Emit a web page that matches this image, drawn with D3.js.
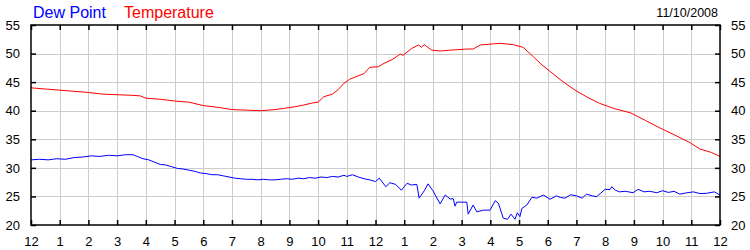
<!DOCTYPE html>
<html>
<head>
<meta charset="utf-8">
<script src="https://cdn.jsdelivr.net/npm/d3@7"></script>
<style>
  body { margin: 0; background: #fff; }
  svg { display: block; font-family: Arial, "Liberation Sans", sans-serif; }
</style>
</head>
<body>
<div id="chart"></div>
<script>
// hours since midnight, degrees F
const dewPoint = [
  [0, 31.4], [0.3, 31.5], [0.6, 31.4], [0.9, 31.6], [1.2, 31.5], [1.5, 31.8], [1.8, 31.9],
  [2.1, 32.1], [2.4, 32.0], [2.7, 32.2], [3.0, 32.1], [3.3, 32.3], [3.55, 32.3], [3.7, 32.0],
  [3.9, 31.6], [4.1, 31.4], [4.3, 31.0], [4.5, 30.6], [4.7, 30.5], [4.9, 30.2], [5.1, 29.9],
  [5.3, 29.8], [5.5, 29.6], [5.7, 29.4], [5.9, 29.1], [6.1, 29.0], [6.3, 28.8], [6.5, 28.8],
  [6.7, 28.6], [6.9, 28.4], [7.1, 28.2], [7.3, 28.1], [7.5, 28.0], [7.7, 28.0], [7.9, 27.9],
  [8.1, 28.0], [8.3, 27.9], [8.5, 27.9], [8.7, 28.0], [8.9, 28.1], [9.1, 28.0], [9.3, 28.2],
  [9.5, 28.1], [9.7, 28.3], [9.9, 28.2], [10.1, 28.4], [10.3, 28.3], [10.5, 28.5], [10.7, 28.4],
  [10.9, 28.7], [11.0, 28.5], [11.2, 28.8], [11.4, 28.4], [11.6, 28.1], [11.8, 27.9], [12.0, 27.6],
  [12.13, 28.2], [12.36, 26.7], [12.5, 27.4], [12.7, 27.1], [12.9, 26.1], [13.1, 27.3], [13.25, 27.0],
  [13.44, 27.1], [13.52, 24.7], [13.7, 26.0], [13.83, 27.2], [14.0, 26.0], [14.25, 23.7], [14.43, 25.25],
  [14.6, 24.55], [14.71, 24.6], [14.77, 23.3], [14.83, 24.0], [15.18, 24.0], [15.23, 21.9], [15.4, 23.5],
  [15.53, 22.3], [15.76, 22.6], [15.99, 22.6], [16.17, 24.25], [16.28, 23.8], [16.45, 21.2], [16.6, 21.0],
  [16.72, 21.9], [16.86, 21.0], [16.94, 22.15], [17.03, 21.45], [17.1, 22.9], [17.27, 23.5], [17.45, 24.85],
  [17.62, 24.7], [17.85, 25.25], [18.08, 24.5], [18.3, 25.1], [18.45, 24.8], [18.6, 24.7], [18.8, 25.3],
  [19.0, 25.1], [19.2, 24.7], [19.35, 25.4], [19.55, 25.1], [19.7, 24.95], [19.85, 25.6], [20.0, 26.25],
  [20.17, 26.2], [20.23, 26.7], [20.35, 26.1], [20.5, 25.8], [20.7, 25.9], [20.97, 25.65], [21.15, 26.25],
  [21.35, 25.8], [21.55, 25.9], [21.8, 25.65], [22.0, 26.0], [22.2, 25.7], [22.4, 25.9], [22.6, 25.4],
  [22.8, 25.6], [23.07, 25.8], [23.3, 25.5], [23.54, 25.55], [23.8, 25.8], [24.0, 25.25]
];

const temperature = [
  [0, 44.0], [0.5, 43.8], [1.0, 43.6], [1.5, 43.4], [2.0, 43.2], [2.5, 42.9], [3.0, 42.8],
  [3.5, 42.7], [3.8, 42.6], [4.0, 42.2], [4.5, 42.0], [5.0, 41.7], [5.5, 41.5], [6.0, 40.9],
  [6.5, 40.6], [7.0, 40.2], [7.5, 40.1], [8.0, 40.0], [8.5, 40.2], [8.8, 40.4], [9.2, 40.7],
  [9.5, 41.0], [9.8, 41.35], [10.0, 41.5], [10.2, 42.45], [10.5, 42.9], [10.7, 43.7], [10.9, 44.8],
  [11.1, 45.5], [11.4, 46.1], [11.6, 46.5], [11.8, 47.6], [12.1, 47.7], [12.3, 48.3], [12.6, 49.0],
  [12.86, 49.9], [12.96, 49.7], [13.26, 50.9], [13.5, 51.5], [13.6, 51.1], [13.7, 51.55], [13.96, 50.6],
  [14.25, 50.45], [14.6, 50.6], [15.2, 50.8], [15.4, 50.8], [15.65, 51.5], [16.1, 51.7], [16.34, 51.8],
  [16.8, 51.55], [17.14, 51.1], [17.5, 49.45], [17.8, 48.0], [18.1, 46.8], [18.5, 45.2], [18.95, 43.6],
  [19.4, 42.3], [19.8, 41.3], [20.3, 40.4], [20.9, 39.6], [21.4, 38.3], [21.9, 37.0], [22.4, 35.8],
  [22.96, 34.4], [23.3, 33.3], [23.7, 32.7], [24.0, 32.0]
];

const hourTicks = d3.range(0, 25);
const hourLabels = ["12", "1", "2", "3", "4", "5", "6", "7", "8", "9", "10", "11",
                    "12", "1", "2", "3", "4", "5", "6", "7", "8", "9", "10", "11", "12"];
const tempTicks = [20, 25, 30, 35, 40, 45, 50, 55];
const dateLabel = "11/10/2008";

const width = 750;
const height = 250;
const margin = { top: 25, right: 30, bottom: 25, left: 31 };

const svg = d3.select("#chart")
  .append("svg")
  .attr("width", width)
  .attr("height", height);

const x = d3.scaleLinear()
  .domain([0, 24])
  .range([margin.left, width - margin.right]);

const y = d3.scaleLinear()
  .domain([20, 55])
  .range([height - margin.bottom, margin.top]);

// grid
svg.append("g")
  .selectAll("line")
  .data(hourTicks.slice(1, -1))
  .enter()
  .append("line")
  .attr("x1", d => Math.round(x(d)) + 0.5)
  .attr("x2", d => Math.round(x(d)) + 0.5)
  .attr("y1", margin.top)
  .attr("y2", height - margin.bottom)
  .attr("stroke", "#cccccc");

svg.append("g")
  .selectAll("line")
  .data(tempTicks.slice(1, -1))
  .enter()
  .append("line")
  .attr("x1", margin.left)
  .attr("x2", width - margin.right)
  .attr("y1", d => Math.round(y(d)) + 0.5)
  .attr("y2", d => Math.round(y(d)) + 0.5)
  .attr("stroke", "#cccccc");

// lines
const line = d3.line()
  .x(d => x(d[0]))
  .y(d => y(d[1]));

svg.append("path")
  .datum(temperature)
  .attr("fill", "none")
  .attr("stroke", "#ff0000")
  .attr("stroke-width", 1)
  .attr("d", line);

svg.append("path")
  .datum(dewPoint)
  .attr("fill", "none")
  .attr("stroke", "#0000ff")
  .attr("stroke-width", 1)
  .attr("d", line);

// axes: ticks pointing into the plot
function styleAxis(g) {
  g.select(".domain").remove();
  g.selectAll(".tick line").attr("stroke", "#000").attr("stroke-width", 1.5);
  g.selectAll(".tick text")
    .attr("fill", "#000")
    .style("font-size", "13px")
    .style("font-family", "Arial, 'Liberation Sans', sans-serif");
}

svg.append("g")
  .attr("transform", `translate(0,${height - margin.bottom})`)
  .call(d3.axisBottom(x).tickValues(hourTicks).tickFormat(d => hourLabels[d])
    .tickSizeInner(-5).tickSizeOuter(0).tickPadding(12))
  .call(styleAxis);

svg.append("g")
  .attr("transform", `translate(0,${margin.top})`)
  .call(d3.axisTop(x).tickValues(hourTicks).tickFormat("")
    .tickSizeInner(-5).tickSizeOuter(0))
  .call(styleAxis);

svg.append("g")
  .attr("transform", `translate(${margin.left},0)`)
  .call(d3.axisLeft(y).tickValues(tempTicks)
    .tickSizeInner(-5).tickSizeOuter(0).tickPadding(11))
  .call(styleAxis);

svg.append("g")
  .attr("transform", `translate(${width - margin.right},0)`)
  .call(d3.axisRight(y).tickValues(tempTicks)
    .tickSizeInner(-5).tickSizeOuter(0).tickPadding(11))
  .call(styleAxis);

// frame
svg.append("rect")
  .attr("x", margin.left)
  .attr("y", margin.top)
  .attr("width", width - margin.left - margin.right)
  .attr("height", height - margin.top - margin.bottom)
  .attr("fill", "none")
  .attr("stroke", "#000")
  .attr("stroke-width", 1.5);

// legend
svg.append("text")
  .attr("x", 33)
  .attr("y", 18)
  .attr("fill", "#0000ff")
  .style("font-size", "16px")
  .text("Dew Point");

svg.append("text")
  .attr("x", 124)
  .attr("y", 18)
  .attr("fill", "#ff0000")
  .style("font-size", "16px")
  .text("Temperature");

svg.append("text")
  .attr("x", 718)
  .attr("y", 17)
  .attr("text-anchor", "end")
  .attr("fill", "#000")
  .style("font-size", "12.5px")
  .text(dateLabel);
</script>
</body>
</html>
